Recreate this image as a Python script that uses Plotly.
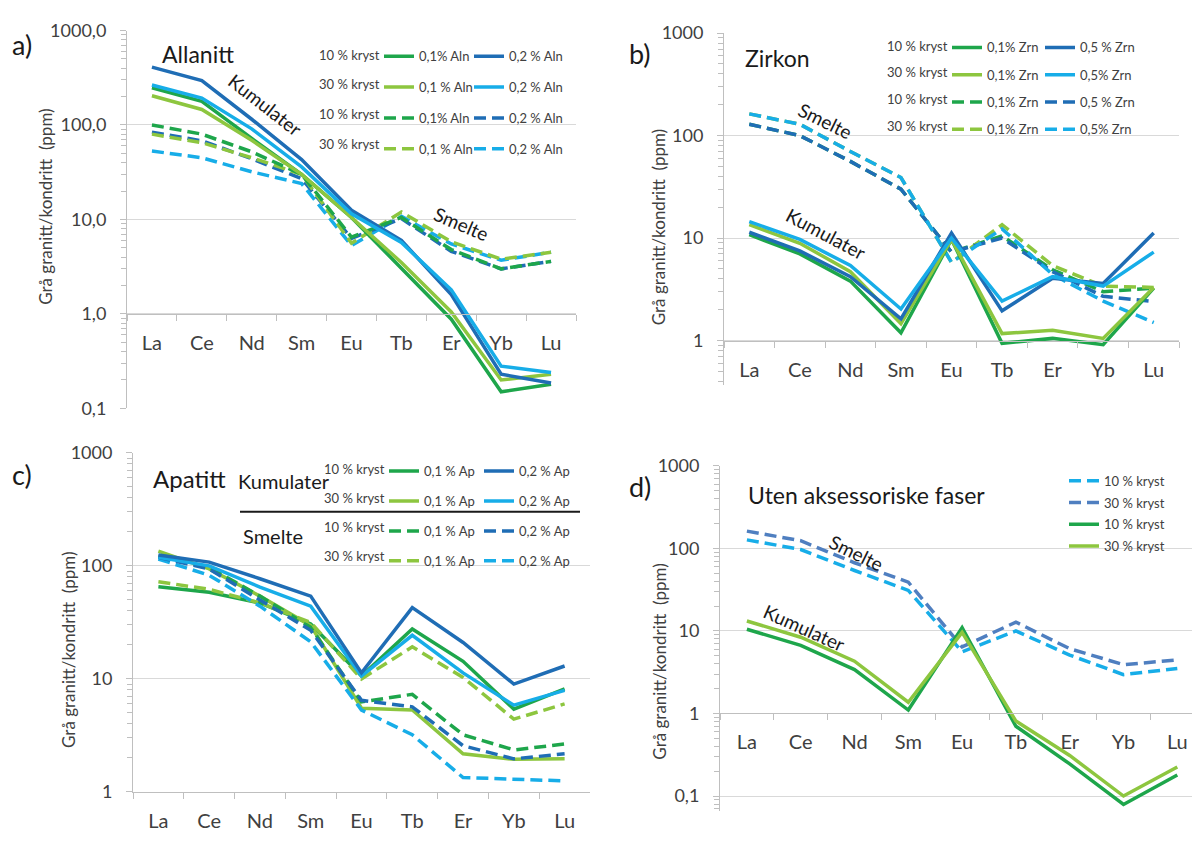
import plotly.graph_objects as go

W, H = 1192, 845


def px(x):
    return x / W


def py(y):
    return 1 - y / H


cats = ["La", "Ce", "Nd", "Sm", "Eu", "Tb", "Er", "Yb", "Lu"]

# a) Allanitt
aln_kum_10_01 = [248, 178, 72, 30, 10.5, 3.0, 0.88, 0.15, 0.18]
aln_kum_30_01 = [204, 146, 69, 30, 10.5, 3.5, 1.05, 0.20, 0.23]
aln_kum_10_02 = [410, 295, 115, 43, 12.5, 6.0, 1.6, 0.23, 0.186]
aln_kum_30_02 = [265, 193, 91, 36, 11.5, 5.7, 1.8, 0.28, 0.24]
aln_sm_10_01 = [100, 80, 52, 30, 6.5, 10.5, 4.8, 3.0, 3.6]
aln_sm_30_01 = [80, 65, 45, 30, 5.6, 12.0, 5.8, 3.8, 4.5]
aln_sm_10_02 = [84, 68, 44, 27, 6.3, 10.2, 4.6, 3.0, 3.6]
aln_sm_30_02 = [53, 45, 32, 24, 5.3, 10.8, 5.5, 3.7, 4.5]

# b) Zirkon
zrn_kum_10_01 = [10.8, 7.0, 3.8, 1.19, 9.7, 0.94, 1.05, 0.91, 3.25]
zrn_kum_30_01 = [13.5, 8.9, 4.7, 1.46, 9.7, 1.17, 1.26, 1.05, 3.3]
zrn_kum_10_05 = [11.4, 7.5, 4.2, 1.63, 11.2, 1.95, 4.05, 3.6, 11.2]
zrn_kum_30_05 = [14.5, 9.7, 5.4, 2.03, 10.0, 2.43, 4.2, 3.4, 7.3]
zrn_sm_10_01 = [129, 100, 56, 30, 7.3, 10.5, 4.9, 3.0, 3.25]
zrn_sm_30_01 = [163, 129, 70, 39, 5.8, 13.5, 5.4, 3.4, 3.3]
zrn_sm_10_05 = [129, 100, 56, 30, 7.3, 10.0, 4.7, 2.7, 2.4]
zrn_sm_30_05 = [163, 129, 70, 39, 5.8, 12.3, 4.4, 2.43, 1.5]

# c) Apatitt
ap_kum_10_01 = [65.5, 58.5, 47, 30.6, 10.6, 27.6, 14.3, 5.4, 8.15]
ap_kum_30_01 = [135, 94, 54, 29.6, 5.5, 5.3, 2.17, 1.94, 1.96]
ap_kum_10_02 = [125, 108, 77, 54, 11.3, 42.7, 21, 9.0, 13]
ap_kum_30_02 = [119, 100, 65, 44, 10.6, 24.3, 11.3, 5.85, 7.9]
ap_sm_10_01 = [122, 97, 54, 28.6, 6.25, 7.3, 3.2, 2.35, 2.65]
ap_sm_30_01 = [72.5, 62, 47, 31.5, 10.0, 19.2, 10.3, 4.4, 6.0]
ap_sm_10_02 = [119, 94, 50, 26.9, 6.46, 5.66, 2.56, 1.96, 2.17]
ap_sm_30_02 = [115, 82.6, 44, 21.3, 5.3, 3.2, 1.34, 1.3, 1.25]

# d) Uten aksessoriske faser
d_sm_10 = [127, 97, 54, 31, 5.6, 10.0, 5.1, 2.96, 3.5]
d_sm_30 = [162, 124, 67, 39, 6.4, 12.8, 6.1, 3.9, 4.46]
d_kum_10 = [10.5, 6.7, 3.4, 1.1, 11.0, 0.70, 0.245, 0.079, 0.18]
d_kum_30 = [13.2, 8.4, 4.3, 1.37, 9.6, 0.81, 0.31, 0.10, 0.225]

FONT = "Lato"
TXT = "#404040"
DG = "#1ea64b"
LG = "#8dc63f"
DB = "#1f6db5"
LB = "#17ade8"
SB = "#4f7fc0"
DASH = "12px,6px"
AX = "#bfbfbf"
GRID = "#d9d9d9"

fig = go.Figure()


def add(xa, ya, y, name, color, dashed, legend, rank):
    fig.add_trace(go.Scatter(
        x=cats, y=y, mode="lines", name=name, xaxis=xa, yaxis=ya,
        line=dict(color=color, width=3.5, dash=DASH if dashed else "solid"),
        legend=legend, legendgroup=legend + str(rank), legendrank=rank,
        hoverinfo="skip"))


# Panel a
add("x", "y", aln_sm_30_02, "0,2 % Aln", LB, True, "legend2", 4)
add("x", "y", aln_sm_10_02, "0,2 % Aln", DB, True, "legend2", 3)
add("x", "y", aln_sm_30_01, "0,1 % Aln", LG, True, "legend", 4)
add("x", "y", aln_sm_10_01, "0,1% Aln", DG, True, "legend", 3)
add("x", "y", aln_kum_10_01, "0,1% Aln", DG, False, "legend", 1)
add("x", "y", aln_kum_30_01, "0,1 % Aln", LG, False, "legend", 2)
add("x", "y", aln_kum_10_02, "0,2 % Aln", DB, False, "legend2", 1)
add("x", "y", aln_kum_30_02, "0,2 % Aln", LB, False, "legend2", 2)

# Panel b
add("x2", "y2", zrn_sm_10_01, "0,1% Zrn", DG, True, "legend3", 3)
add("x2", "y2", zrn_sm_30_01, "0,1% Zrn", LG, True, "legend3", 4)
add("x2", "y2", zrn_sm_10_05, "0,5 % Zrn", DB, True, "legend4", 3)
add("x2", "y2", zrn_sm_30_05, "0,5% Zrn", LB, True, "legend4", 4)
add("x2", "y2", zrn_kum_10_01, "0,1% Zrn", DG, False, "legend3", 1)
add("x2", "y2", zrn_kum_30_01, "0,1% Zrn", LG, False, "legend3", 2)
add("x2", "y2", zrn_kum_10_05, "0,5 % Zrn", DB, False, "legend4", 1)
add("x2", "y2", zrn_kum_30_05, "0,5% Zrn", LB, False, "legend4", 2)

# Panel c
add("x3", "y3", ap_kum_10_01, "0,1 % Ap", DG, False, "legend5", 1)
add("x3", "y3", ap_kum_30_01, "0,1 % Ap", LG, False, "legend5", 2)
add("x3", "y3", ap_sm_10_01, "0,1 % Ap", DG, True, "legend5", 3)
add("x3", "y3", ap_sm_30_01, "0,1 % Ap", LG, True, "legend5", 4)
add("x3", "y3", ap_sm_30_02, "0,2 % Ap", LB, True, "legend6", 4)
add("x3", "y3", ap_sm_10_02, "0,2 % Ap", DB, True, "legend6", 3)
add("x3", "y3", ap_kum_30_02, "0,2 % Ap", LB, False, "legend6", 2)
add("x3", "y3", ap_kum_10_02, "0,2 % Ap", DB, False, "legend6", 1)

# Panel d
add("x4", "y4", d_sm_10, "10 % kryst", LB, True, "legend7", 1)
add("x4", "y4", d_sm_30, "30 % kryst", SB, True, "legend7", 2)
add("x4", "y4", d_kum_10, "10 % kryst", DG, False, "legend7", 3)
add("x4", "y4", d_kum_30, "30 % kryst", LG, False, "legend7", 4)


def xaxis(domain, rng, anchor, position=None):
    d = dict(type="category", domain=domain, range=rng, anchor=anchor,
             showline=True, linecolor=AX, linewidth=1, showgrid=False,
             ticks="outside", ticklen=6, tickcolor=AX, tickson="boundaries",
             tickfont=dict(size=20, color=TXT, family=FONT),
             ticklabelstandoff=11, zeroline=False)
    if position is not None:
        d["position"] = position
    return d


def yaxis(domain, rng, anchor, fmt):
    return dict(type="log", domain=domain, range=rng, anchor=anchor,
                showline=True, linecolor=AX, linewidth=1,
                showgrid=True, gridcolor=GRID, gridwidth=1, dtick=1,
                ticks="outside", ticklen=6, tickcolor=AX,
                tickformat=fmt, ticklabelstandoff=10,
                tickfont=dict(size=18, color=TXT, family=FONT),
                minor=dict(ticks="outside", ticklen=5, tickcolor=AX,
                           dtick="D1", showgrid=False),
                zeroline=False)


def legend(x, y, gap):
    return dict(x=px(x), y=py(y), xanchor="left", yanchor="top",
                bgcolor="rgba(0,0,0,0)", borderwidth=0,
                font=dict(size=13, color=TXT, family=FONT),
                tracegroupgap=gap, itemwidth=30, traceorder="grouped",
                itemclick=False, itemdoubleclick=False)


layout = dict(
    width=W, height=H, margin=dict(l=0, r=0, t=0, b=0),
    paper_bgcolor="white", plot_bgcolor="white", separators=",.",
    font=dict(family=FONT, color=TXT),
    showlegend=True,
    # a
    xaxis=xaxis([px(127), px(576)], [-0.5, 8.5], "free", py(310)),
    yaxis=yaxis([py(407), py(19)], [-1, 3], "x", ".1f"),
    # b
    xaxis2=xaxis([px(724), px(1179)], [-0.5, 8.5], "free", py(337.3)),
    yaxis2=yaxis([py(383), py(21.7)], [-0.434, 3], "x2", "~g"),
    # c
    xaxis3=xaxis([px(133), px(590)], [-0.5, 8.5], "y3"),
    yaxis3=yaxis([py(800.7), py(452.7)], [0, 3], "x3", "~g"),
    # d
    xaxis4=xaxis([px(720), 1.0], [-0.5, -0.5 + (1192 - 720) / 53.8], "free", py(720)),
    yaxis4=yaxis([py(820), py(466)], [-1.177, 3], "x4", "~g"),
    legend=legend(379, 30, 11),
    legend2=legend(469, 30, 11),
    legend3=legend(947, 21, 7.4),
    legend4=legend(1040, 21, 7.4),
    legend5=legend(384, 456, 10),
    legend6=legend(479, 456, 10),
    legend7=legend(1064, 466, 1.8),
)
fig.update_layout(**layout)

ann = []


def text(x, y, s, size, color="#1a1a1a", angle=0, xanchor="center"):
    ann.append(dict(x=px(x), y=py(y), xref="paper", yref="paper", text=s,
                    showarrow=False, textangle=angle, xanchor=xanchor,
                    yanchor="middle", font=dict(size=size, color=color, family=FONT)))


# panel letters and titles
text(22, 33, "a)", 27)
text(640, 43, "b)", 27)
text(22, 475, "c)", 27)
text(640, 487, "d)", 27)
text(198, 43, "Allanitt", 23)
text(777, 47, "Zirkon", 23)
text(189, 479, "Apatitt", 24)
text(866, 496, "Uten aksessoriske faser", 23)

# y titles
ytitle = "Grå granitt/kondritt  (ppm)"
text(46, 200, ytitle, 17, TXT, -90)
text(658, 221, ytitle, 17, TXT, -90)
text(69, 655, ytitle, 17, TXT, -90)
text(660, 667, ytitle, 17, TXT, -90)

# curve labels
text(265, 95, "Kumulater", 19, "#1a1a1a", 38)
text(461, 217, "Smelte", 19, "#1a1a1a", 23)
text(825, 111, "Smelte", 19, "#1a1a1a", 26)
text(826, 227, "Kumulater", 19, "#1a1a1a", 28)
text(856, 555, "Smelte", 19, "#1a1a1a", 26)
text(804, 632, "Kumulater", 19, "#1a1a1a", 24)

# legend row labels
rows = ["10 % kryst", "30 % kryst", "10 % kryst", "30 % kryst"]
for yy, s in zip([44, 74, 105, 136], rows):
    text(382, yy, s, 13, TXT, 0, "right")
for yy, s in zip([35, 62, 89, 117], rows):
    text(950, yy, s, 13, TXT, 0, "right")
for yy, s in zip([469, 499, 529, 559], rows):
    text(387, yy, s, 13, TXT, 0, "right")
text(284, 482, "Kumulater", 20)
text(273, 538, "Smelte", 20)

fig.update_layout(annotations=ann)
fig.add_shape(type="line", xref="paper", yref="paper", x0=px(240), x1=px(580),
              y0=py(513), y1=py(513), line=dict(color="#1a1a1a", width=2))

fig.write_html("out.html", config={"displayModeBar": False},
               post_script="document.body.style.margin='0px';")
